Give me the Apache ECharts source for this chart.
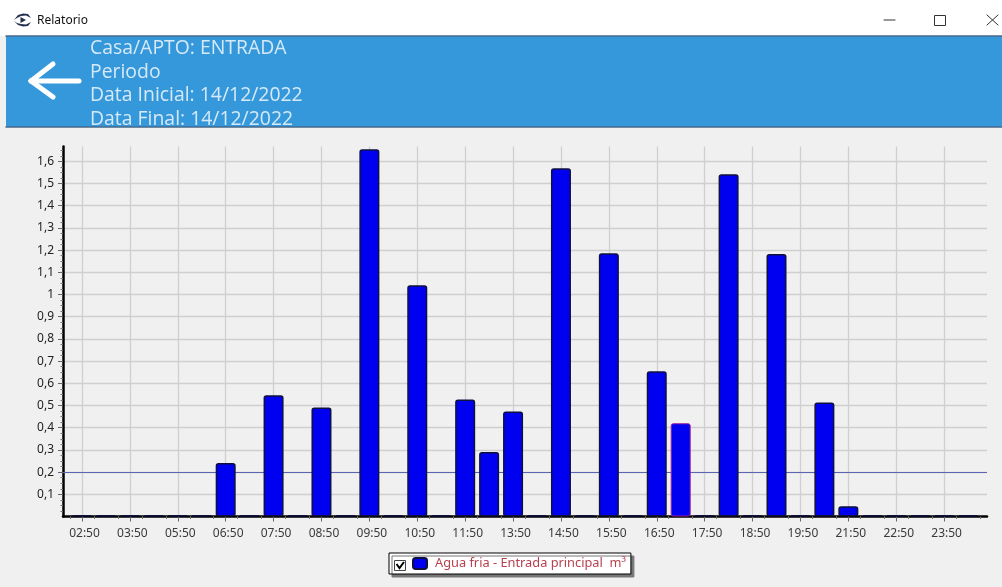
<!DOCTYPE html>
<html>
<head>
<meta charset="utf-8">
<title>Relatorio</title>
<script src="https://cdn.jsdelivr.net/npm/echarts@6/dist/echarts.min.js"></script>
<style>
  html, body { margin: 0; padding: 0; background: #f0f0f0; }
  #chart { width: 1002px; height: 587px; }
</style>
</head>
<body>
<div id="chart"></div>
<script>
// valores, um por intervalo
const values = [
  0.006, 0.006, 0.006, 0.006, 0.006, 0.006, 0.241, 0.006, 0.546, 0.006, 0.491, 0.006, 1.654, 0.006, 1.042, 0.006, 0.527, 0.291, 0.473,
  0.006, 1.569, 0.006, 1.186, 0.006, 0.654, 0.42, 0.006, 1.542, 0.006, 1.182, 0.006, 0.514, 0.046, 0.006, 0.006, 0.006, 0.006, 0.006
]
const hourLabels = [
  '02:50', '03:50', '05:50', '06:50', '07:50', '08:50', '09:50', '10:50', '11:50', '13:50',
  '14:50', '15:50', '16:50', '17:50', '18:50', '19:50', '21:50', '22:50', '23:50'
]
const yTicks = [0.1, 0.2, 0.3, 0.4, 0.5, 0.6, 0.7, 0.8, 0.9, 1, 1.1, 1.2, 1.3, 1.4, 1.5, 1.6]
const limitValue = 0.2
const highlightIndex = 25
const seriesName = 'Agua fria - Entrada principal  m³'
const headerLines = ['Casa/APTO: ENTRADA', 'Periodo', 'Data Inicial: 14/12/2022', 'Data Final: 14/12/2022']

const xMin = -0.793
const xMax = 37.79
const majorTicks = hourLabels.map((_, i) => i * 2)
const minorTicks = values.map((_, i) => i - 0.5).concat(values.map((_, i) => i + 0.5))

const myChart = echarts.init(document.getElementById('chart'), null, { renderer: 'canvas' })

const line = (x1, y1, x2, y2, stroke, lineWidth) => ({
  type: 'line',
  silent: true,
  z: 20,
  shape: { x1, y1, x2, y2 },
  style: { stroke, lineWidth, lineCap: 'round' }
})
const poly = (points, fill) => ({
  type: 'polygon',
  silent: true,
  z: 20,
  shape: { points },
  style: { fill }
})

const graphic = [
  // barra da janela
  { type: 'rect', silent: true, z: 10, shape: { x: 0, y: 0, width: 1002, height: 36 }, style: { fill: '#fff' } },
  poly([[14, 20], [18, 15], [23, 13.5], [28, 14], [31, 18], [26, 15.5], [21, 16], [17, 18]], '#27314f'),
  poly([[14, 21], [18, 25], [23, 26.5], [28, 26], [31, 22], [26, 24.5], [21, 24], [17, 23]], '#27314f'),
  poly([[20.5, 17], [26, 20], [20.5, 23]], '#27314f'),
  { type: 'text', silent: true, z: 20, x: 37, y: 21,
    style: { text: 'Relatorio', font: '12px "Noto Sans"', fill: '#111', verticalAlign: 'middle' } },
  line(884, 20, 895, 20, '#333', 1),
  { type: 'rect', silent: true, z: 20, shape: { x: 934.5, y: 15.5, width: 11, height: 10 }, style: { fill: 'none', stroke: '#333', lineWidth: 1 } },
  line(987, 15, 998, 25, '#333', 1),
  line(998, 15, 987, 25, '#333', 1),

  // cabecalho azul
  { type: 'rect', silent: true, z: 10, shape: { x: 6, y: 36, width: 996, height: 91 }, style: { fill: '#3498db' } },
  line(6, 36, 1002, 36, '#46688a', 1.5),
  line(6, 127, 1002, 127, '#46688a', 1.5),
  line(31, 81, 79, 81, '#fff', 5),
  line(31, 81, 53, 64, '#fff', 5),
  line(31, 81, 53, 97, '#fff', 5)
]

headerLines.forEach((text, i) => {
  graphic.push({
    type: 'text',
    silent: true,
    z: 20,
    x: 90,
    y: 48.5 + i * 23.5,
    style: { text, font: '19.4px "Open Sans"', fill: '#d6e9f7', verticalAlign: 'middle' }
  })
})

// caixa de selecao da legenda
graphic.push(
  { type: 'rect', silent: true, z: 20, shape: { x: 394.5, y: 560.5, width: 11, height: 10 }, style: { fill: '#fff', stroke: '#444', lineWidth: 1 } },
  { type: 'polyline', silent: true, z: 21, shape: { points: [[396.5, 564], [399.5, 568], [404, 562]] }, style: { fill: 'none', stroke: '#000', lineWidth: 2 } }
)

const option = {
  backgroundColor: '#f0f0f0',
  animation: false,
  textStyle: { fontFamily: 'Noto Sans' },
  graphic,
  legend: {
    left: 389,
    top: 553,
    padding: [4, 5, 4, 23],
    backgroundColor: '#fff',
    borderColor: '#000',
    borderWidth: 1,
    shadowColor: '#777',
    shadowBlur: 0,
    shadowOffsetX: 3,
    shadowOffsetY: 3,
    itemWidth: 14,
    itemHeight: 11,
    itemGap: 0,
    icon: 'roundRect',
    selectedMode: false,
    textStyle: { color: '#b8404e', fontSize: 12.8, fontFamily: 'Noto Sans', padding: [0, 0, 0, 3] },
    data: [seriesName]
  },
  grid: { left: 63, right: 15, top: 146.5, bottom: 70.5 },
  xAxis: [
    {
      type: 'value',
      position: 'bottom',
      min: xMin,
      max: xMax,
      axisLine: { onZero: false, lineStyle: { color: '#000', width: 2.5 } },
      axisTick: { customValues: majorTicks, length: 5, lineStyle: { color: '#666', width: 1 } },
      axisLabel: {
        customValues: majorTicks,
        color: '#3a3a3a',
        fontSize: 12,
        margin: 11,
        padding: [0, 0, 0, 5],
        formatter: v => hourLabels[Math.round(v / 2)]
      },
      splitLine: { show: true, lineStyle: { color: '#cfcfcf', width: 1.3 } }
    },
    {
      type: 'value',
      position: 'bottom',
      min: xMin,
      max: xMax,
      axisLine: { show: false, onZero: false },
      axisTick: { customValues: minorTicks, length: 2.5, lineStyle: { color: '#777', width: 1 } },
      axisLabel: { show: false },
      splitLine: { show: false }
    }
  ],
  yAxis: {
    type: 'value',
    min: 0,
    max: 1.6667,
    interval: 0.1,
    axisLine: { show: true, onZero: false, lineStyle: { color: '#000', width: 2.5 } },
    axisTick: { show: true, customValues: yTicks, length: 5, lineStyle: { color: '#666', width: 1 } },
    minorTick: { show: true, splitNumber: 4, length: 2.5, lineStyle: { color: '#777', width: 1 } },
    axisLabel: {
      customValues: yTicks,
      color: '#222',
      fontSize: 12,
      margin: 9,
      formatter: v => String(v).replace('.', ',')
    },
    splitLine: { show: true, lineStyle: { color: '#cfcfcf', width: 1.3 } }
  },
  series: [{
    name: seriesName,
    type: 'bar',
    barWidth: 20,
    z: 3,
    itemStyle: { color: '#0000f0', borderColor: '#101040', borderWidth: 1.5, borderRadius: 2 },
    data: values.map((v, i) => {
      const item = { value: [i, v] }
      if (i === highlightIndex) {
        item.itemStyle = { borderColor: '#a01f9c', borderWidth: 1 }
      }
      return item
    }),
    markLine: {
      silent: true,
      z: 1,
      symbol: 'none',
      label: { show: false },
      lineStyle: { color: '#5c64b4', width: 1.2, type: 'solid' },
      data: [{ yAxis: limitValue }]
    }
  }]
}

myChart.setOption(option)
window.addEventListener('resize', () => {
  myChart.resize()
})
</script>
</body>
</html>
